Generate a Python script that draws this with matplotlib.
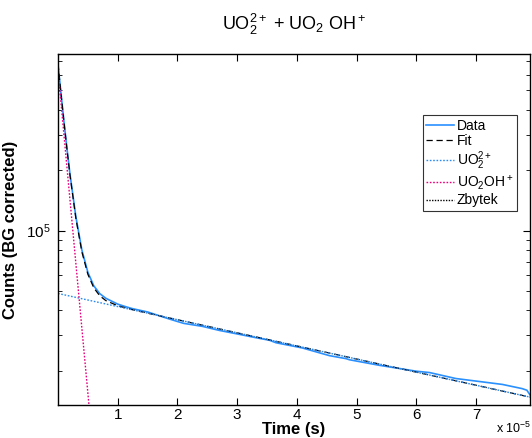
import numpy as np
import matplotlib
matplotlib.use("Agg")
import matplotlib.pyplot as plt
from matplotlib.ticker import FixedLocator, LogLocator, NullFormatter

plt.rcParams["font.family"] = ["Liberation Sans", "DejaVu Sans"]
plt.rcParams["mathtext.fontset"] = "custom"
plt.rcParams["mathtext.rm"] = "Liberation Sans"
plt.rcParams["mathtext.it"] = "Liberation Sans:italic"
plt.rcParams["mathtext.bf"] = "Liberation Sans:bold"

# time in units of 1e-5 s, counts
data_t = [0, 0.05, 0.1, 0.15, 0.2, 0.3, 0.4, 0.5, 0.6, 0.7, 0.8, 1.0, 1.15,
          1.25, 1.5, 1.87, 2.1, 2.42, 2.7, 2.985, 3.3, 3.54, 3.65, 4.09,
          4.545, 4.82, 4.88, 5.38, 6.0, 6.22, 6.66, 7.11, 7.44, 7.77, 7.85, 7.9]
data_y = [6.75e5, 4.85e5, 3.5e5, 2.57e5, 1.92e5, 1.17e5, 8.0e4, 6.2e4, 5.3e4,
          4.85e4, 4.6e4, 4.3e4, 4.16e4, 4.08e4, 3.93e4, 3.62e4, 3.45e4, 3.33e4,
          3.18e4, 3.06e4, 2.93e4, 2.84e4, 2.76e4, 2.60e4, 2.38e4, 2.30e4,
          2.27e4, 2.13e4, 1.99e4, 1.96e4, 1.83e4, 1.76e4, 1.71e4, 1.63e4,
          1.60e4, 1.52e4]

fit_t = [0, 0.05, 0.1, 0.15, 0.2, 0.3, 0.4, 0.5, 0.6, 0.7, 0.8, 1.0, 1.25,
         1.5, 2, 3, 4, 5, 6, 7, 7.9]
fit_y = [6.79e5, 4.83e5, 3.48e5, 2.55e5, 1.90e5, 1.148e5, 7.83e4, 6.06e4,
         5.18e4, 4.73e4, 4.48e4, 4.22e4, 4.03e4, 3.877e4, 3.596e4, 3.093e4,
         2.661e4, 2.289e4, 1.969e4, 1.694e4, 1.479e4]

uo2_t = [0, 7.9]
uo2_y = [4.86e4, 1.479e4]

uo2oh_t = [0, 0.6]
uo2oh_y = [6.3e5, 7.4e3]

xtick_vals = [1, 2, 3, 4, 5, 6, 7]

sec = 1e-5

fig = plt.figure(figsize=(5.32, 4.38), dpi=100)
ax = fig.add_axes([0.109, 0.0753, 0.887, 0.8014])

ax.plot(np.array(data_t) * sec, data_y, color="#2a90ff", lw=1.2, label="Data")
ax.plot(np.array(fit_t) * sec, fit_y, color="black", lw=0.9,
        ls=(0, (5, 3)), label="Fit")
ax.plot(np.array(uo2_t) * sec, uo2_y, color="#2b8cf0", lw=1.0,
        ls=(0, (1.2, 1.2)), label=r"UO$_2^{2+}$")
ax.plot(np.array(uo2oh_t) * sec, uo2oh_y, color="#e6007e", lw=1.0,
        ls=(0, (1.2, 1.2)), label=r"UO$_2$OH$^+$")
ax.plot([], [], color="black", lw=1.0, ls=(0, (1, 1)), label="Zbytek")

ax.set_yscale("log")
ax.set_xlim(0, 7.9e-5)
ax.set_ylim(1.35e4, 7.6e5)

ax.xaxis.set_major_locator(FixedLocator([v * sec for v in xtick_vals]))
ax.set_xticklabels([str(v) for v in xtick_vals])
ax.yaxis.set_major_locator(LogLocator(base=10))
ax.yaxis.set_minor_locator(LogLocator(base=10, subs=np.arange(2, 10)))
ax.yaxis.set_minor_formatter(NullFormatter())

ax.tick_params(which="both", direction="in", top=True, right=True,
               labelsize=11)
ax.tick_params(which="major", length=5)
ax.tick_params(which="minor", length=3)
ax.tick_params(axis="x", pad=2)
ax.tick_params(axis="y", pad=5)
for s in ax.spines.values():
    s.set_linewidth(1.0)

ax.set_xlabel("Time (s)", fontsize=12, fontweight="bold", labelpad=0)
ax.set_ylabel("Counts (BG corrected)", fontsize=12, fontweight="bold",
              labelpad=6)
ax.set_title(r"UO$_2^{2+}$ + UO$_2$ OH$^+$", fontsize=13, pad=17)
# MATLAB-style exponent note, kept inside the canvas
fig.text(0.998, 0.004, r"x 10$^{-5}$", fontsize=9, ha="right", va="bottom")

leg = ax.legend(loc="upper right", bbox_to_anchor=(0.972, 0.825),
                fontsize=10, frameon=True, fancybox=False, edgecolor="black",
                handlelength=2.0, handletextpad=0.2, borderpad=0.25,
                labelspacing=0.1, borderaxespad=0)
leg.get_frame().set_linewidth(0.8)

fig.savefig("out.png", dpi=100)
